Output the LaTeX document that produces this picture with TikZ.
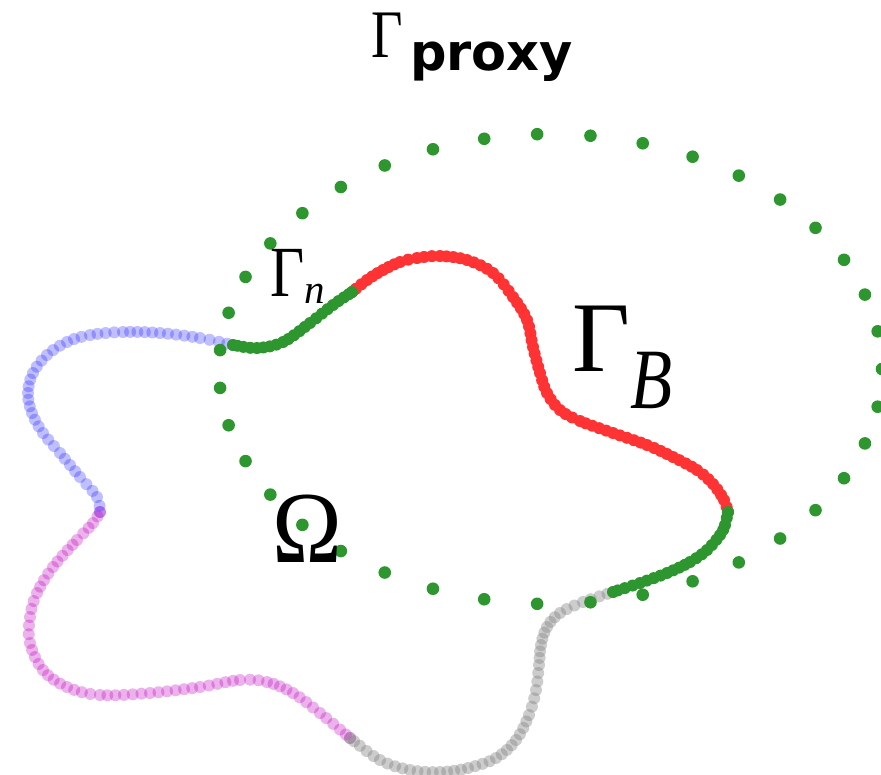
\documentclass[tikz,border=0pt]{standalone}
\usepackage{fontspec}
\setmainfont{Liberation Serif}
\newfontfamily\dvsans{DejaVu Sans}
\usepackage{graphicx}
\definecolor{pgreen}{RGB}{46,150,46}
\definecolor{pred}{RGB}{255,51,51}
\definecolor{pblue}{RGB}{0,0,255}
\definecolor{pmag}{RGB}{191,0,191}
\definecolor{pgray}{RGB}{128,128,128}
\tikzset{
  proxydot/.style={fill=pgreen},
  lbl/.style={inner sep=0pt, anchor=base west}
}
% dots along a Catmull-Rom curve through the points of two pgfmath arrays
% #1 style, #2 x array, #3 y array, #4 spacing
\newcommand\dotcurve[4]{%
  \pgfmathtruncatemacro\nlast{dim(#2)-1}%
  \foreach \i in {1,...,\nlast}{%
    \pgfmathtruncatemacro\ia{max(\i-2,0)}%
    \pgfmathtruncatemacro\ib{\i-1}%
    \pgfmathtruncatemacro\id{min(\i+1,\nlast)}%
    \pgfmathsetmacro\xa{#2[\ia]}\pgfmathsetmacro\ya{#3[\ia]}%
    \pgfmathsetmacro\xb{#2[\ib]}\pgfmathsetmacro\yb{#3[\ib]}%
    \pgfmathsetmacro\xc{#2[\i]}\pgfmathsetmacro\yc{#3[\i]}%
    \pgfmathsetmacro\xd{#2[\id]}\pgfmathsetmacro\yd{#3[\id]}%
    \pgfmathsetmacro\len{veclen(\xc-\xb,\yc-\yb)}%
    \pgfmathtruncatemacro\ns{max(1,round(\len/#4))}%
    \pgfmathtruncatemacro\nsm{\ns-1}%
    \foreach \k in {0,...,\nsm}{%
      \pgfmathsetmacro\t{\k/\ns}%
      \pgfmathsetmacro\px{0.5*(2*\xb+(\xc-\xa)*\t+(2*\xa-5*\xb+4*\xc-\xd)*\t*\t+(3*\xb-\xa-3*\xc+\xd)*\t*\t*\t)}%
      \pgfmathsetmacro\py{0.5*(2*\yb+(\yc-\ya)*\t+(2*\ya-5*\yb+4*\yc-\yd)*\t*\t+(3*\yb-\ya-3*\yc+\yd)*\t*\t*\t)}%
      \fill[#1] (\px,\py) circle (6pt);
    }%
  }%
  \pgfmathsetmacro\xe{#2[\nlast]}\pgfmathsetmacro\ye{#3[\nlast]}%
  \fill[#1] (\xe,\ye) circle (6pt);
}
\def\bluex{{100,97,80,60,43,32,28,33,47,67,90,123,160,200,233}}
\def\bluey{{512,497,477,453,433,413,393,373,355,342,335,332,333,338,345}}
\def\magx{{350,320,293,267,240,200,150,100,67,43,30,30,37,53,77,93,100}}
\def\magy{{738,713,693,682,680,687,693,695,687,670,643,617,593,567,540,523,512}}
\def\grayx{{613,583,560,547,541,539,536,529,516,496,468,440,410,380,350}}
\def\grayy{{592,602,613,627,645,665,690,715,740,758,768,772,770,760,738}}
\def\redx{{352,367,383,400,417,440,467,493,513,527,533,540,547,560,580,613,647,673,697,713,724,728}}
\def\redy{{292,280,270,262,258,256,260,273,297,320,347,373,393,410,421,433,445,457,470,484,500,512}}
\def\gnax{{233,257,283,310,333,352}}
\def\gnay{{345,348,342,323,305,292}}
\def\gnbx{{728,725,720,707,690,667,640,613}}
\def\gnby{{512,525,535,550,562,573,583,592}}
\begin{document}
\begin{tikzpicture}[x=1pt,y=-1pt]
\useasboundingbox (0,0) rectangle (881,774);
% transparent parts of the boundary
\dotcurve{pblue,fill opacity=0.25}{\bluex}{\bluey}{8}
\dotcurve{pmag,fill opacity=0.3}{\magx}{\magy}{8}
\dotcurve{pgray,fill opacity=0.4}{\grayx}{\grayy}{7.5}
% Gamma_B
\dotcurve{pred}{\redx}{\redy}{7}
% Gamma_n
\dotcurve{pgreen}{\gnax}{\gnay}{6.5}
\dotcurve{pgreen}{\gnbx}{\gnby}{6.5}
% proxy points
\foreach \k in {0,...,38}
  \fill[proxydot] ({550.5+331.5*cos(\k*360/39)},{369-235*sin(\k*360/39)}) circle (6.3pt);
% labels
\node[lbl] (gproxy) at (371,57) {\fontsize{68}{68}\selectfont\scalebox{0.8}[1]{Γ}};
\node[lbl] (proxy) at (410,70) {\fontsize{51}{51}\selectfont\dvsans\bfseries proxy};
\node[lbl] (gn) at (270,296) {\fontsize{72}{72}\selectfont\scalebox{0.82}[1]{Γ}};
\node[lbl] (nsub) at (304,303) {\fontsize{41}{41}\selectfont\itshape n};
\node[lbl] (gb) at (572,371) {\fontsize{100}{100}\selectfont Γ};
\node[lbl] (bsub) at (630,408) {\fontsize{86}{86}\selectfont\scalebox{0.8}[1]{\itshape B}};
\node[lbl] (omega) at (272,562) {\fontsize{102}{102}\selectfont\scalebox{0.92}[1]{Ω}};
\end{tikzpicture}
\end{document}
